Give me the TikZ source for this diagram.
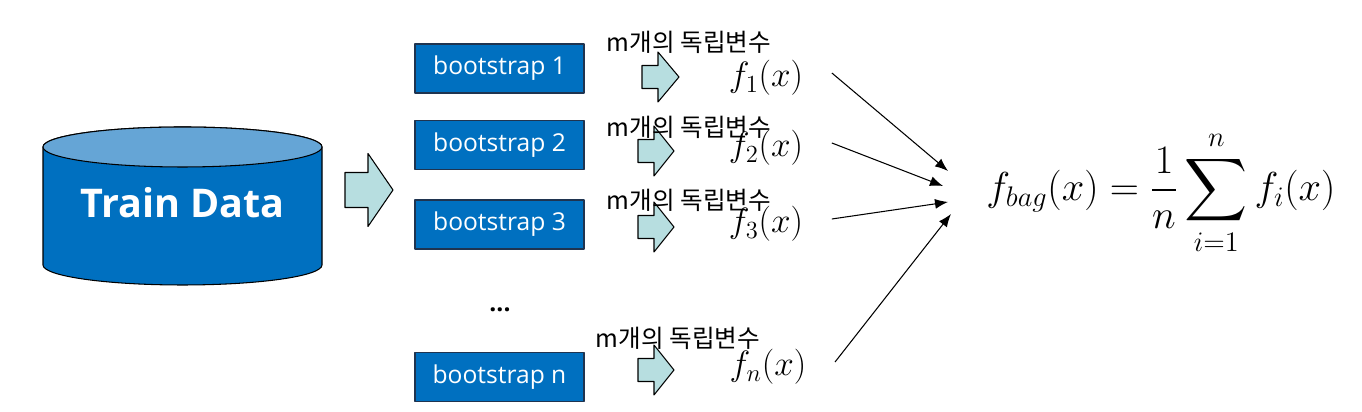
\RequirePackage{fix-cm}
\documentclass[tikz,border=0pt]{standalone}
\usepackage{amsmath}
\usepackage{fontspec}
\setmainfont{Open Sans}
\newfontfamily\kor{Noto Sans CJK KR}
\usetikzlibrary{arrows.meta}
\definecolor{boxblue}{HTML}{0070C0}
\definecolor{topblue}{HTML}{65A5D6}
\definecolor{arrteal}{HTML}{B7DEE0}
\definecolor{boxline}{HTML}{1F3450}

\begin{document}
\begin{tikzpicture}[line join=round, >={Latex[length=0.26cm,width=0.2cm]},
	boot/.style={draw=boxline, line width=1pt, fill=boxblue, text=white, minimum width=3.38cm, minimum height=0.98cm, font=\fontsize{14}{16}\selectfont},
	mvar/.style={font=\kor\fontsize{14}{16}\selectfont},
	fx/.style={font=\fontsize{20}{24}\selectfont},
	pics/blockarr/.style args={#1/#2/#3/#4}{code={
		\draw[fill=arrteal, line width=0.6pt] (0,#2) -- (#1,#2) -- (#1,#3) -- (#4,0) -- (#1,-#3) -- (#1,-#2) -- (0,-#2) -- cycle;}}]
	\useasboundingbox (0,0) rectangle (27.24,8.24);
	% train data cylinder
	\draw[fill=boxblue, line width=0.6pt] (0.86,5.30) -- (0.86,2.94) arc[start angle=180, end angle=360, x radius=2.79, y radius=0.40] -- (6.44,5.30) arc[start angle=0, end angle=180, x radius=2.79, y radius=0.40] -- cycle;
	\draw[fill=topblue, line width=0.6pt] (3.65,5.30) ellipse [x radius=2.79, y radius=0.40];
	\node[text=white, font=\bfseries\fontsize{22.5}{26}\selectfont] (data) at (3.65,4.18) {Train Data};
	\pic at (6.90,4.44) {blockarr=0.46/0.35/0.73/0.96};
	% bootstrap samples
	\node[boot] (b1) at (9.99,6.87) {bootstrap 1};
	\node[boot] (b2) at (9.99,5.34) {bootstrap 2};
	\node[boot] (b3) at (9.99,3.75) {bootstrap 3};
	\node[boot] (bn) at (9.99,0.70) {bootstrap n};
	\node[anchor=base, font=\bfseries\fontsize{14}{16}\selectfont] (dots) at (10.0,2.0) {...};
	% models
	\pic at (12.84,6.70) {blockarr=0.32/0.23/0.50/0.74};
	\pic at (12.76,5.22) {blockarr=0.32/0.23/0.50/0.72};
	\pic at (12.76,3.70) {blockarr=0.32/0.23/0.50/0.72};
	\pic at (12.76,0.84) {blockarr=0.32/0.23/0.50/0.72};
	\node[mvar] (m1) at (13.78,7.40) {m개의 독립변수};
	\node[mvar] (m2) at (13.78,5.70) {m개의 독립변수};
	\node[mvar] (m3) at (13.78,4.24) {m개의 독립변수};
	\node[mvar] (mn) at (13.56,1.48) {m개의 독립변수};
	\node[fx] (f1) at (15.32,6.68) {$f_1(x)$};
	\node[fx] (f2) at (15.32,5.28) {$f_2(x)$};
	\node[fx] (f3) at (15.32,3.76) {$f_3(x)$};
	\node[fx] (fn) at (15.36,0.90) {$f_n(x)$};
	% aggregation
	\coordinate (t1) at (18.96,4.82);
	\coordinate (t2) at (18.86,4.52);
	\coordinate (t3) at (18.96,4.20);
	\coordinate (tn) at (19.02,3.96);
	\draw[->, line width=0.6pt] ([shift={(0.45,0.1)}]f1.east) -- (t1);
	\draw[->, line width=0.6pt] ([shift={(0.45,0.1)}]f2.east) -- (t2);
	\draw[->, line width=0.6pt] ([shift={(0.45,0.1)}]f3.east) -- (t3);
	\draw[->, line width=0.6pt] ([shift={(0.45,0.1)}]fn.east) -- (tn);
	\node[font=\fontsize{23}{28}\selectfont] (bag) at (23.22,4.38) {$\displaystyle f_{bag}(x) = \frac{1}{n}\sum_{i=1}^{n} f_i(x)$};
\end{tikzpicture}
\end{document}
